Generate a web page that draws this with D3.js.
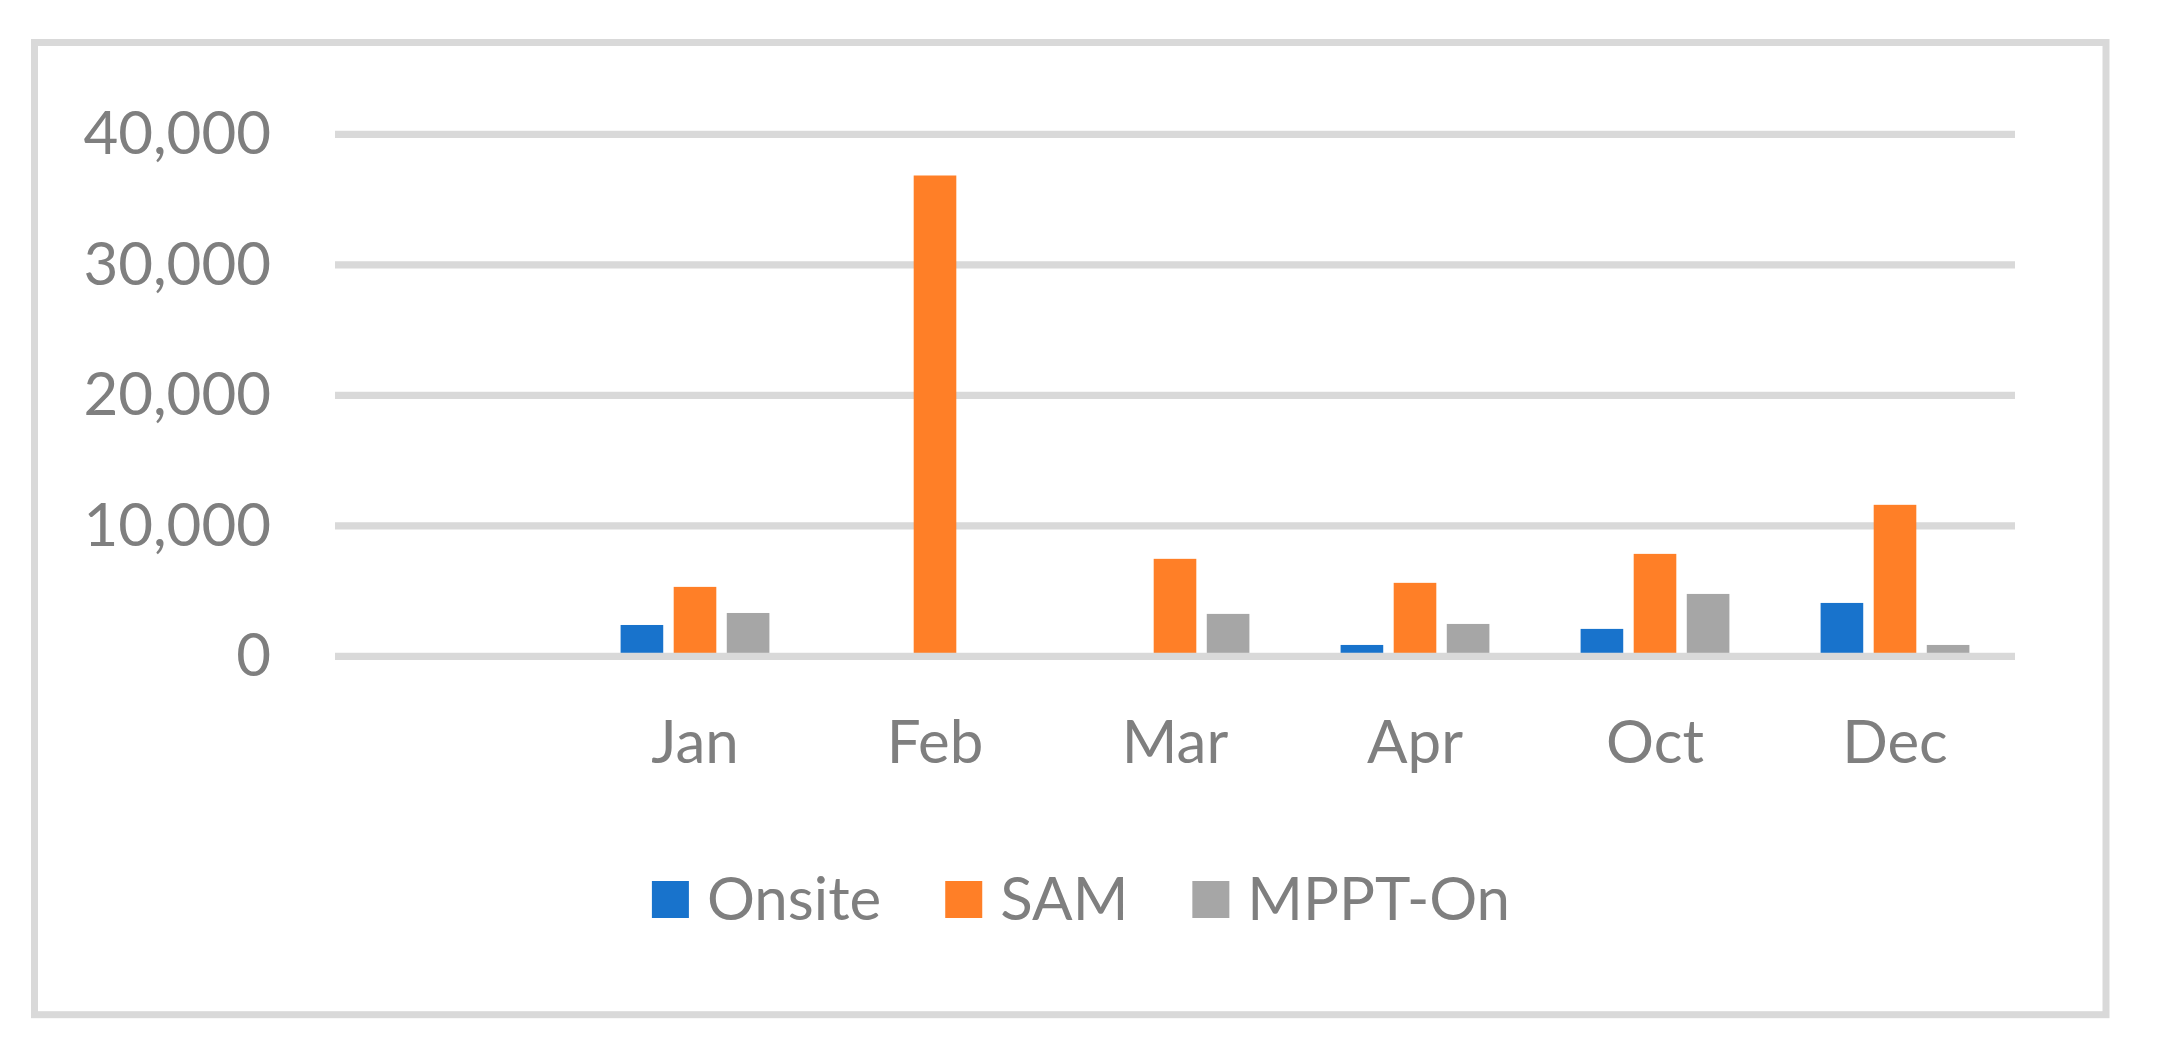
<!DOCTYPE html>
<html>
<head>
<meta charset="utf-8">
<script src="https://cdn.jsdelivr.net/npm/d3@7"></script>
<style>
  html, body { margin: 0; padding: 0; background: #ffffff; }
  svg { display: block; }
  text { font-family: Lato, "Open Sans", "Noto Sans", sans-serif; fill: #7f7f7f; }
</style>
</head>
<body>
<svg id="chart" width="2157" height="1051"></svg>
<script>
// ---- data ----
const categories = ["", "Jan", "Feb", "Mar", "Apr", "Oct", "Dec"];
const seriesNames = ["Onsite", "SAM", "MPPT-On"];
const onsite = [null, 2400, 0, 0, 870, 2100, 4090];
const sam    = [null, 5320, 36850, 7470, 5630, 7850, 11610];
const mpptOn = [null, 3320, 0, 3250, 2480, 4780, 870];
const yTicks = [0, 10000, 20000, 30000, 40000];
const colors = ["#1873cc", "#ff7f27", "#a6a6a6"];

const seriesValues = [onsite, sam, mpptOn];

const svg = d3.select("#chart");

// outer border
svg.append("rect")
  .attr("x", 34.5).attr("y", 42.5)
  .attr("width", 2071.5).attr("height", 972.2)
  .attr("fill", "#ffffff")
  .attr("stroke", "#d9d9d9").attr("stroke-width", 7);

// scales
const y = d3.scaleLinear().domain([0, 40000]).range([656.3, 134.4]);
const x = d3.scaleBand().domain(categories.map((c, i) => i)).range([335, 2015]).paddingInner(0).paddingOuter(0);
const bw = x.bandwidth();
const xs = d3.scaleBand().domain(seriesNames).range([bw * 0.19, bw * 0.81]).paddingInner(0.197).paddingOuter(0);

// gridlines (except zero line, drawn on top)
svg.append("g").selectAll("line")
  .data(yTicks.filter(t => t !== 0))
  .join("line")
  .attr("x1", 335).attr("x2", 2015)
  .attr("y1", d => y(d)).attr("y2", d => y(d))
  .attr("stroke", "#d9d9d9").attr("stroke-width", 7.3);

// bars
const barData = [];
categories.forEach((c, ci) => {
  seriesNames.forEach((s, si) => {
    const v = seriesValues[si][ci];
    if (v !== null && v > 0) barData.push({ ci, s, si, v });
  });
});
svg.append("g").selectAll("rect")
  .data(barData)
  .join("rect")
  .attr("x", d => x(d.ci) + xs(d.s))
  .attr("width", xs.bandwidth())
  .attr("y", d => y(d.v))
  .attr("height", d => y(0) - y(d.v))
  .attr("fill", d => colors[d.si]);

// zero line on top
svg.append("line")
  .attr("x1", 335).attr("x2", 2015)
  .attr("y1", y(0)).attr("y2", y(0))
  .attr("stroke", "#d9d9d9").attr("stroke-width", 7.3);

// y tick labels
svg.append("g").selectAll("text")
  .data(yTicks)
  .join("text")
  .attr("x", 271)
  .attr("y", d => y(d) + 20)
  .attr("text-anchor", "end")
  .attr("font-size", 60)
  .text(d => d3.format(",")(d));

// category labels
svg.append("g").selectAll("text")
  .data(categories.map((c, i) => ({ c, i })).filter(d => d.c !== ""))
  .join("text")
  .attr("x", d => x(d.i) + bw / 2)
  .attr("y", 763)
  .attr("text-anchor", "middle")
  .attr("font-size", 60)
  .text(d => d.c);

// legend
const legend = svg.append("g");
const sq = 37, textGap = 18, itemGap = 64;
let cursor = 0;
const items = [];
seriesNames.forEach((s, i) => {
  const g = legend.append("g");
  g.append("rect").attr("x", 0).attr("y", -sq / 2).attr("width", sq).attr("height", sq).attr("fill", colors[i]);
  const t = g.append("text").attr("x", sq + textGap).attr("y", 20).attr("font-size", 60).text(s);
  const w = sq + textGap + t.node().getComputedTextLength();
  g.attr("transform", `translate(${cursor},0)`);
  cursor += w + itemGap;
  items.push(g);
});
const totalW = cursor - itemGap;
legend.attr("transform", `translate(${1081 - totalW / 2},899.5)`);
</script>
</body>
</html>
